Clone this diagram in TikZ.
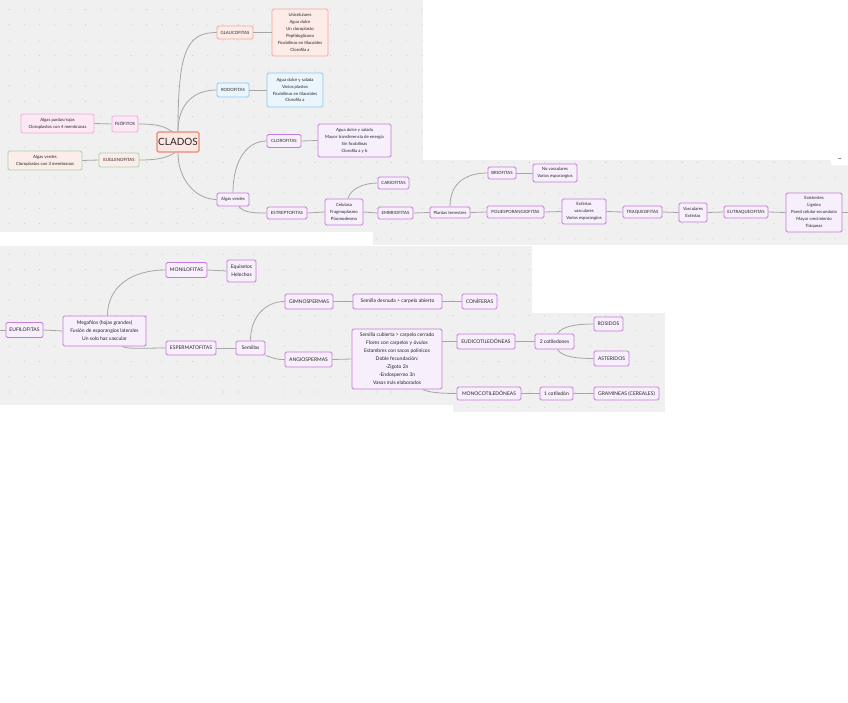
\documentclass[tikz,border=0pt]{standalone}
\usepackage{fontspec}
\setmainfont{Lato}
\usepackage{tikz}
\usetikzlibrary{calc}

\definecolor{panel}{HTML}{F0F0F0}
\definecolor{dotc}{HTML}{C9C9C9}
\definecolor{wire}{HTML}{A6A6A6}
\definecolor{txt}{HTML}{262626}
\definecolor{lila}{HTML}{C77CD8}
\definecolor{lilafill}{HTML}{F7EFFC}
\definecolor{salmon}{HTML}{F4A896}
\definecolor{salmonfill}{HTML}{FDEBE7}
\definecolor{cielo}{HTML}{88C9F0}
\definecolor{cielofill}{HTML}{EBF5FD}
\definecolor{rosa}{HTML}{F2A7DA}
\definecolor{rosafill}{HTML}{FDE9F6}
\definecolor{verde}{HTML}{A5D4A5}
\definecolor{verdefill}{HTML}{FCEDEA}
\definecolor{rojo}{HTML}{EC8674}
\definecolor{rojofill}{HTML}{FDE7E3}

\tikzset{
  caja/.style={draw=lila, fill=lilafill, rounded corners=1.5pt, line width=0.9pt,
    text=txt, align=center, inner sep=1pt, font=\fontsize{5}{8}\selectfont},
  chica/.style={font=\fontsize{4.3}{6.9}\selectfont},
  sz/.style 2 args={minimum width=#1pt, minimum height=#2pt},
  rama/.style={draw=wire, line width=0.8pt},
}

\begin{document}
\begin{tikzpicture}[x=1pt,y=-1pt]
        \useasboundingbox (0,0) rectangle (848,703);
        % paneles
        \fill[panel] (0,0) rectangle (423,232);
        \fill[panel] (373,160) rectangle (848,245);
        \fill[panel] (0,246) rectangle (532,405);
        \fill[panel] (453,313) rectangle (665,412);
        \begin{scope}
        \clip (0,0) rectangle (423,232) (373,160) rectangle (848,245)
              (0,246) rectangle (532,405) (453,313) rectangle (665,412);
        \foreach \i in {0,...,55}
            \foreach \j in {0,...,26}
                \fill[dotc] ({9+15.3*\i},{9.5+15.3*\j}) circle (0.55);
        \end{scope}
        \node[fill=white, rounded corners=2pt, minimum width=18pt, minimum height=11pt,
              inner sep=0pt, text=txt, font=\fontsize{8}{8}\selectfont] (menos) at (840,160) {--};

        % clados
        \node[caja,draw=rojo,fill=rojofill,line width=1.1pt,sz={42}{20},font=\fontsize{10}{10}\selectfont] (clados) at (178,142) {CLADOS};
        \node[caja,chica,draw=salmon,fill=salmonfill,sz={36}{13}] (glauco) at (235,32.5) {GLAUCOFITAS};
        \node[caja,chica,draw=salmon,fill=salmonfill,sz={56}{47}] (glaucoD) at (300,32.5) {Unicelulares\\Agua dulce\\Un cloroplasto\\Peptidoglicano\\Ficobilinas en tilacoides\\Clorofila a};
        \node[caja,chica,draw=cielo,fill=cielofill,sz={32}{14}] (rodo) at (233,90) {RODOFITAS};
        \node[caja,chica,draw=cielo,fill=cielofill,sz={56}{34}] (rodoD) at (295,90) {Agua dulce y salada\\Varios plastos\\Ficobilinas en tilacoides\\Clorofila a};
        \node[caja,chica,draw=rosa,fill=rosafill,sz={26}{16}] (feo) at (125,124) {FEÓFITOS};
        \node[caja,chica,draw=rosa,fill=rosafill,sz={73}{19}] (feoD) at (57.5,123.5) {Algas pardas/rojas\\Cloroplastos con 4 membranas};
        \node[caja,chica,draw=verde,fill=verdefill,sz={40}{14}] (eugl) at (119,160) {EUGLENOFITAS};
        \node[caja,chica,draw=verde,fill=verdefill,sz={74}{19}] (euglD) at (45,160.5) {Algas verdes\\Cloroplastos con 3 membranas};
        \node[caja,chica,sz={34}{13}] (cloro) at (284,141) {CLOROFITAS};
        \node[caja,chica,sz={73}{33}] (cloroD) at (354.5,140.5) {Agua dulce y salada\\Mayor transferencia de energía\\Sin ficobilinas\\Clorofila a y b};
        \node[caja,chica,sz={32}{13}] (algas) at (233,199.5) {Algas verdes};
        \node[caja,chica,sz={40}{12}] (estrepto) at (287,213) {ESTREPTOFITAS};
        \node[caja,chica,sz={38}{26}] (celu) at (344,212) {Celulosa\\Fragmoplasmo\\Plasmodesmo};
        \node[caja,chica,sz={31}{12}] (cario) at (393.5,183) {CARIOFITAS};
        \node[caja,chica,sz={35}{12}] (embrio) at (395.5,213) {EMBRIOFITAS};

        % terrestres
        \node[caja,chica,sz={28}{12}] (brio) at (502,173) {BRIOFITAS};
        \node[caja,chica,sz={44}{18}] (brioD) at (555,173) {No vasculares\\Varios esporangios};
        \node[caja,chica,sz={40}{11}] (plantas) at (450,212.5) {Plantas terrestres};
        \node[caja,chica,sz={57}{12}] (polie) at (515.5,212) {POLIESPORANGIOFITAS};
        \node[caja,chica,sz={44}{25}] (extin) at (584,211.5) {Extintas\\vasculares\\Varios esporangios};
        \node[caja,chica,sz={39}{12}] (traqueo) at (642.5,212) {TRAQUEOFITAS};
        \node[caja,chica,sz={28}{19}] (vasc) at (693,212.5) {Vasculares\\Extintas};
        \node[caja,chica,sz={44}{12}] (eutraq) at (746,212) {EUTRAQUEOFITAS};
        \node[caja,chica,sz={56}{39}] (exist) at (814,212.5) {Existentes\\Lignina\\Pared celular secundaria\\Mayor crecimiento\\Tráqueas};
        \coordinate (bordeE) at (848,212.5);

        % eufilofitas
        \coordinate (bordeW) at (0,330);
        \node[caja,sz={37}{15}] (eufilo) at (24.5,330) {EUFILOFITAS};
        \node[caja,sz={83}{30}] (mega) at (104.5,331) {Megafilos (hojas grandes)\\Fusión de esporangios laterales\\Un solo haz vascular};
        \node[caja,sz={41}{15}] (monilo) at (186.5,270) {MONILOFITAS};
        \node[caja,sz={29}{22}] (equis) at (241.5,271) {Equisetos\\Helechos};
        \node[caja,sz={50}{14}] (esperma) at (191,348) {ESPERMATOFITAS};
        \node[caja,sz={29}{14}] (semillas) at (250.5,348) {Semillas};
        \node[caja,sz={48}{15}] (gimno) at (309,301.5) {GIMNOSPERMAS};
        \node[caja,sz={89}{15}] (desnuda) at (397.5,301.5) {Semilla desnuda > carpelo abierto};
        \node[caja,sz={35}{15}] (conif) at (479.5,301.5) {CONÍFERAS};
        \node[caja,sz={47}{15}] (angio) at (308.5,359.5) {ANGIOSPERMAS};
        \node[caja,sz={90}{60}] (angioD) at (397,359) {Semilla cubierta > carpelo cerrado\\Flores con carpelos y óvulos\\Estambres con sacos polínicos\\Doble fecundación:\\-Zigoto 2n\\-Endospermo 3n\\Vasos más elaborados};
        \node[caja,sz={58}{15}] (eudico) at (486,341.5) {EUDICOTILEDÓNEAS};
        \node[caja,sz={64}{13}] (mono) at (489,393.5) {MONOCOTILEDÓNEAS};
        \node[caja,sz={39}{15}] (dosc) at (554.5,341.5) {2 cotiledones};
        \node[caja,sz={29}{14}] (rosidos) at (608.5,324) {ROSIDOS};
        \node[caja,sz={35}{15}] (asteridos) at (611.5,358.5) {ASTERIDOS};
        \node[caja,sz={33}{13}] (unoc) at (556.5,393.5) {1 cotiledón};
        \node[caja,sz={65}{13}] (grami) at (626.5,393.5) {GRAMINEAS (CEREALES)};

        % ramas
        \draw[rama] (clados.north) .. controls +(0,-80) and +(-30,0) .. (glauco.west);
        \draw[rama] (clados.north) .. controls +(0,-28) and +(-22,0) .. (rodo.west);
        \draw[rama] (feo.east) .. controls +(20,0) and +(-8,-5) .. ([xshift=-6pt]clados.north);
        \draw[rama] (eugl.east) .. controls +(20,0) and +(-8,5) .. ([xshift=-3pt]clados.south);
        \draw[rama] (clados.south) .. controls +(0,28) and +(-20,0) .. (algas.west);
        \draw[rama] (glauco.east) -- (glaucoD.west);
        \draw[rama] (rodo.east) -- (rodoD.west);
        \draw[rama] (feoD.east) -- (feo.west);
        \draw[rama] (euglD.east) -- (eugl.west);
        \draw[rama] (algas.north) .. controls +(0,-33) and +(-19,0) .. (cloro.west);
        \draw[rama] ([xshift=6pt]algas.south) .. controls +(5,6) and +(-15,0) .. (estrepto.west);
        \draw[rama] (cloro.east) -- (cloroD.west);
        \draw[rama] (estrepto.east) -- (celu.west);
        \draw[rama] ([xshift=4pt]celu.north) .. controls +(2,-9) and +(-15,0) .. (cario.west);
        \draw[rama] (celu.east) -- (embrio.west);
        \draw[rama] (embrio.east) -- (plantas.west);
        \draw[rama] (plantas.north) .. controls +(0,-25) and +(-20,0) .. (brio.west);
        \draw[rama] (brio.east) -- (brioD.west);
        \draw[rama] (plantas.east) -- (polie.west);
        \draw[rama] (polie.east) -- (extin.west);
        \draw[rama] (extin.east) -- (traqueo.west);
        \draw[rama] (traqueo.east) -- (vasc.west);
        \draw[rama] (vasc.east) -- (eutraq.west);
        \draw[rama] (eutraq.east) -- (exist.west);
        \draw[rama] (exist.east) -- (bordeE);
        \draw[rama] (bordeW) -- (eufilo.west);
        \draw[rama] (eufilo.east) -- (mega.west);
        \draw[rama] ([xshift=3pt]mega.north) .. controls +(0,-28) and +(-35,0) .. (monilo.west);
        \draw[rama] ([xshift=18pt]mega.south) .. controls +(5,3) and +(-20,0) .. (esperma.west);
        \draw[rama] (monilo.east) -- (equis.west);
        \draw[rama] (esperma.east) -- (semillas.west);
        \draw[rama] (semillas.north) .. controls +(0,-25) and +(-18,0) .. (gimno.west);
        \draw[rama] (semillas.south east) .. controls +(10,3) and +(-10,0) .. (angio.west);
        \draw[rama] (gimno.east) -- (desnuda.west);
        \draw[rama] (desnuda.east) -- (conif.west);
        \draw[rama] (angio.east) -- (angioD.west);
        \draw[rama] ([yshift=17.5pt]angioD.east) -- (eudico.west);
        \draw[rama] ([xshift=26pt]angioD.south) .. controls +(5,3) and +(-15,0) .. (mono.west);
        \draw[rama] (eudico.east) -- (dosc.west);
        \draw[rama] ([xshift=3pt]dosc.north) .. controls +(5,-8) and +(-15,0) .. (rosidos.west);
        \draw[rama] ([xshift=3pt]dosc.south) .. controls +(5,8) and +(-15,0) .. (asteridos.west);
        \draw[rama] (mono.east) -- (unoc.west);
        \draw[rama] (unoc.east) -- (grami.west);
\end{tikzpicture}
\end{document}
